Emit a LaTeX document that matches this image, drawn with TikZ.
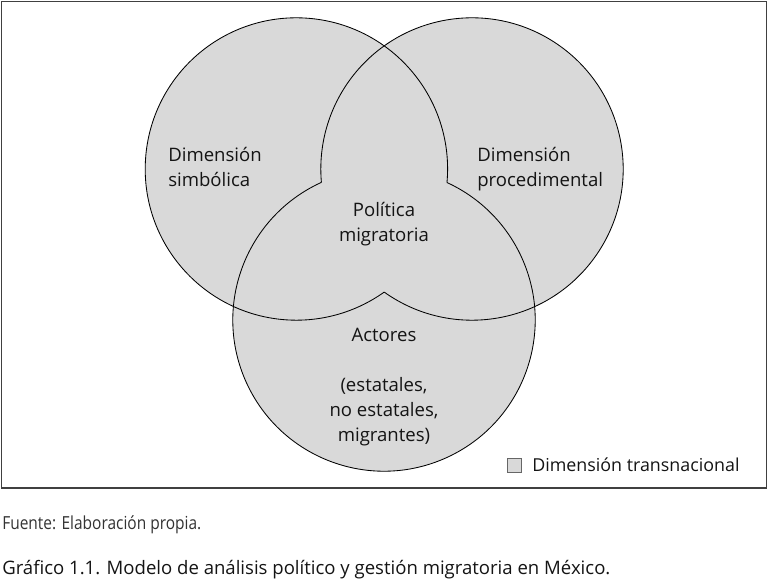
\documentclass[tikz,border=0pt]{standalone}
\usepackage{fontspec}
\setmainfont{Open Sans}
\newfontfamily\srcfont[FakeStretch=0.86]{Open Sans}
\usepackage{tikz}

\begin{document}
\begin{tikzpicture}[
  venn/.style={fill=black!15},
  rim/.style={draw=black, line width=0.6pt},
  lbl/.style={inner sep=0pt, text=black!92, font=\fontsize{13.2}{17.8}\selectfont},
]
\useasboundingbox (0,0) rectangle (19.2,14.55);
% frame
\draw[black!75, line width=0.9pt] (0.03,2.35) rectangle (19.17,14.52);
% centres of the three sets
\coordinate (L) at (7.41,10.325);
\coordinate (R) at (11.8,10.325);
\coordinate (B) at (9.6,6.55);
\def\rad{3.78}
\fill[venn] (L) circle (\rad) (R) circle (\rad) (B) circle (\rad);
% outlines, without the arcs inside the other two circles
\draw[rim] ([shift={(-5.14:\rad)}]L) arc[start angle=-5.14, end angle=305.5, radius=\rad];
\draw[rim] ([shift={(234.5:\rad)}]R) arc[start angle=234.5, end angle=545.14, radius=\rad];
\draw[rim] ([shift={(114.63:\rad)}]B) arc[start angle=114.63, end angle=425.37, radius=\rad];
% labels (base = last line)
\node[lbl, anchor=base west, align=left] (simb) at (4.2,9.875) {Dimensión\\simbólica};
\node[lbl, anchor=base west, align=left] (proc) at (11.925,9.875) {Dimensión\\procedimental};
\node[lbl, anchor=base, align=center] (pol) at (9.6,8.5) {Política\\migratoria};
\node[lbl, anchor=base, align=center] (act) at (9.6,3.5) {Actores\\[0.625cm](estatales,\\no estatales,\\migrantes)};
% legend
\filldraw[fill=black!15, draw=black!60, line width=0.5pt] (12.675,2.75) rectangle (13.025,3.1);
\node[lbl, anchor=base west, font=\fontsize{12.7}{14}\selectfont] (trans) at (13.3,2.75) {Dimensión transnacional};
% source and caption
\node[lbl, anchor=base west, text=black!80, font=\srcfont\fontsize{12.8}{14}\selectfont] (src) at (0.05,1.3) {Fuente: Elaboración propia.};
\node[lbl, anchor=base west] (cap) at (0.05,0.2) {Gráfico 1.1. Modelo de análisis político y gestión migratoria en México.};
\end{tikzpicture}
\end{document}
